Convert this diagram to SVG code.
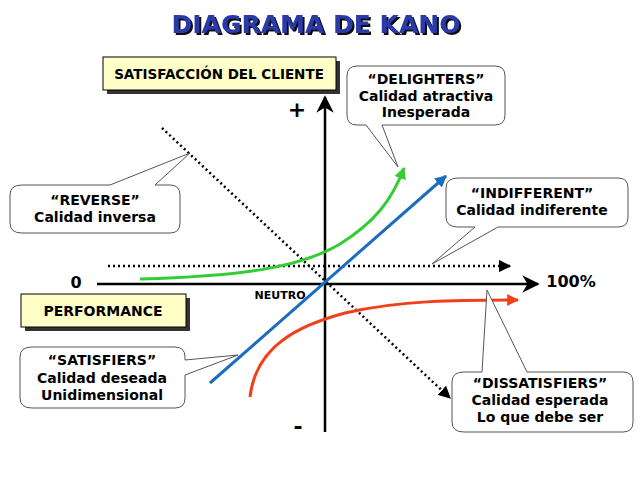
<svg xmlns="http://www.w3.org/2000/svg" width="640" height="480" viewBox="0 0 640 480">
<style>
text{font-family:"DejaVu Sans","Liberation Sans",sans-serif;font-weight:bold;fill:#000}
.c{font-size:14px;text-anchor:middle}
.callout{fill:#fff;stroke:#555;stroke-width:1}
.lbl{fill:#ffffc8;stroke:#000;stroke-width:1}
.sh{fill:#333}
</style>
<defs>
<filter id="ts" x="-10%" y="-30%" width="120%" height="160%"><feDropShadow dx="2" dy="2" stdDeviation="0" flood-color="#111"/></filter>
<marker id="ak" viewBox="0 0 10 10" refX="9" refY="5" markerWidth="7" markerHeight="7" orient="auto-start-reverse"><path d="M0,0L10,5L0,10L3,5z" fill="#000"/></marker>
<marker id="ag" viewBox="0 0 10 10" refX="9" refY="5" markerWidth="4" markerHeight="4" orient="auto"><path d="M0,0L10,5L0,10z" fill="#3c3"/></marker>
<marker id="ab" viewBox="0 0 10 10" refX="9" refY="5" markerWidth="4" markerHeight="4" orient="auto"><path d="M0,0L10,5L0,10z" fill="#1c6cc0"/></marker>
<marker id="ar" viewBox="0 0 10 10" refX="9" refY="5" markerWidth="4" markerHeight="4" orient="auto"><path d="M0,0L10,5L0,10z" fill="#f0401a"/></marker>
<marker id="ad" viewBox="0 0 10 10" refX="9" refY="5" markerWidth="5" markerHeight="5" orient="auto"><path d="M0,0L10,5L0,10z" fill="#000"/></marker>
</defs>
<rect width="640" height="480" fill="#fff"/>
<g id="title">
<text x="316" y="33" font-size="25" text-anchor="middle" style="fill:#2a3aa8" filter="url(#ts)">DIAGRAMA DE KANO</text>
</g>
<g id="connectors">
<line x1="325" y1="432" x2="325" y2="97" stroke="#000" stroke-width="2.5" marker-end="url(#ak)"/>
<line x1="97" y1="284" x2="538" y2="284" stroke="#000" stroke-width="2.5" marker-end="url(#ak)"/>
<line x1="108" y1="266" x2="510" y2="266" stroke="#000" stroke-width="2.5" stroke-dasharray="2 3" marker-end="url(#ad)"/>
<line x1="162" y1="128" x2="450" y2="398" stroke="#000" stroke-width="2.5" stroke-dasharray="2 3" marker-end="url(#ad)"/>
<path d="M140,279 C240,276 300,268 340,244 C375,222 392,200 404,168" fill="none" stroke="#3c3" stroke-width="3" marker-end="url(#ag)"/>
<line x1="210" y1="383" x2="446" y2="176" stroke="#1c6cc0" stroke-width="3" marker-end="url(#ab)"/>
<path d="M250,397 C256,345 300,325 345,313 C400,300 460,300 518,300" fill="none" stroke="#f0401a" stroke-width="3" marker-end="url(#ar)"/>
</g>
<g id="satisfaccion">
<rect class="sh" x="107" y="61" width="233" height="33"/>
<rect class="lbl" x="103" y="57" width="233" height="33"/>
<text x="219" y="79" font-size="13.5" text-anchor="middle">SATISFACCIÓN DEL CLIENTE</text>
</g>
<g id="performance">
<rect class="sh" x="25" y="298" width="165" height="33"/>
<rect class="lbl" x="21" y="294" width="165" height="33"/>
<text x="103" y="316" font-size="14" text-anchor="middle">PERFORMANCE</text>
</g>
<g id="axislabels">
<text x="297" y="117" font-size="22" text-anchor="middle">+</text>
<text x="298" y="434" font-size="22" text-anchor="middle">-</text>
<text x="76" y="288" font-size="16" text-anchor="middle">0</text>
<text x="571" y="287" font-size="16" text-anchor="middle">100%</text>
<text x="280" y="299" font-size="11" text-anchor="middle">NEUTRO</text>
</g>
<g id="delighters">
<path class="callout" d="M357,66 H495 Q505,66 505,76 V115 Q505,125 495,125 H382 L398,167 L366,125 H357 Q347,125 347,115 V76 Q347,66 357,66 Z"/>
<text class="c" x="426" y="84">“DELIGHTERS”</text>
<text class="c" x="426" y="101">Calidad atractiva</text>
<text class="c" x="426" y="117">Inesperada</text>
</g>
<g id="reverse">
<path class="callout" d="M22,185 H110 L190,153 L155,185 H170 Q180,185 180,195 V223 Q180,233 170,233 H22 Q10,233 10,223 V195 Q10,185 22,185 Z"/>
<text class="c" x="95" y="205">“REVERSE”</text>
<text class="c" x="95" y="222">Calidad inversa</text>
</g>
<g id="indifferent">
<path class="callout" d="M458,178 H618 Q628,178 628,188 V217 Q628,227 618,227 H498 L432,264 L475,227 H458 Q446,227 446,217 V188 Q446,178 458,178 Z"/>
<text class="c" x="532" y="198">“INDIFFERENT”</text>
<text class="c" x="532" y="215">Calidad indiferente</text>
</g>
<g id="satisfiers">
<path class="callout" d="M32,347 H175 Q185,347 185,357 V360 L238,355 L185,375 V398 Q185,408 175,408 H32 Q20,408 20,398 V357 Q20,347 32,347 Z"/>
<text class="c" x="102" y="365">“SATISFIERS”</text>
<text class="c" x="102" y="383">Calidad deseada</text>
<text class="c" x="102" y="400">Unidimensional</text>
</g>
<g id="dissatisfiers">
<path class="callout" d="M464,372 H482 L487,290 L527,372 H623 Q633,372 633,382 V422 Q633,432 623,432 H464 Q452,432 452,422 V382 Q452,372 464,372 Z"/>
<text class="c" x="540" y="388">“DISSATISFIERS”</text>
<text class="c" x="540" y="405">Calidad esperada</text>
<text class="c" x="540" y="422">Lo que debe ser</text>
</g>
</svg>
